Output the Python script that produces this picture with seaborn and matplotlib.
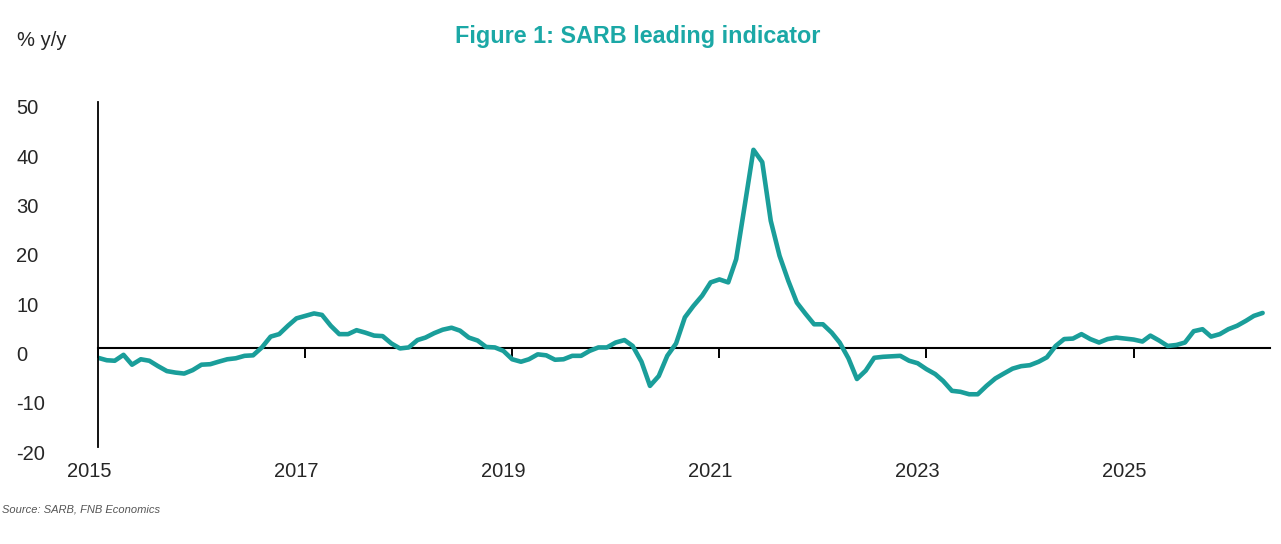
import numpy as np
import pandas as pd
import matplotlib
matplotlib.use('Agg')
import matplotlib.pyplot as plt
import matplotlib.dates as mdates
import matplotlib.transforms as mtransforms
import seaborn as sns

# SARB leading indicator, % y/y, monthly from Jan 2015
start_month = '2015-01-01'
leading_yy = [
    -1.9, -2.4, -2.5, -1.3, -3.3, -2.2, -2.5, -3.6, -4.6, -4.9, -5.1, -4.4,   # 2015
    -3.3, -3.2, -2.7, -2.2, -2.0, -1.5, -1.4, 0.2, 2.4, 2.9, 4.6, 6.1,        # 2016
    6.6, 7.1, 6.8, 4.6, 2.9, 2.9, 3.7, 3.2, 2.6, 2.5, 1.0, 0.0,               # 2017
    0.2, 1.7, 2.2, 3.1, 3.8, 4.2, 3.6, 2.2, 1.6, 0.3, 0.2, -0.5,              # 2018
    -2.2, -2.7, -2.2, -1.2, -1.4, -2.3, -2.2, -1.5, -1.5, -0.5, 0.2, 0.2,     # 2019
    1.2, 1.7, 0.5, -2.7, -7.6, -5.6, -1.5, 1.0, 6.3, 8.6, 10.7, 13.4,         # 2020
    14.0, 13.4, 18.1, 29.3, 40.3, 37.8, 25.9, 18.8, 13.7, 9.3, 7.0, 4.9,      # 2021
    4.9, 3.2, 1.2, -2.0, -6.2, -4.5, -1.9, -1.7, -1.6, -1.5, -2.5, -3.0,      # 2022
    -4.2, -5.2, -6.6, -8.6, -8.8, -9.3, -9.3, -7.6, -6.1, -5.1, -4.1, -3.6,   # 2023
    -3.4, -2.7, -1.8, 0.5, 1.9, 2.0, 2.9, 1.9, 1.2, 1.9, 2.2, 2.0,            # 2024
    1.8, 1.4, 2.6, 1.6, 0.5, 0.7, 1.2, 3.5, 3.9, 2.4, 2.9, 3.9,               # 2025
    4.6, 5.6, 6.6, 7.2,                                                       # 2026
]
year_ticks = ['2015', '2017', '2019', '2021', '2023', '2025']
y_ticks = [-20, -10, 0, 10, 20, 30, 40, 50]

dates = pd.date_range(start_month, periods=len(leading_yy), freq='MS')
df = pd.DataFrame({'date': dates, 'value': leading_yy})

sns.set_style('white')
plt.rcParams['font.family'] = ['Liberation Sans', 'DejaVu Sans']
plt.rcParams['axes.unicode_minus'] = False

line_col = '#1a9e9a'
title_col = '#1ba8a6'

fig = plt.figure(figsize=(12.81, 5.44), dpi=100)
ax = fig.add_axes([98 / 1281, 1 - 447 / 544, (1270 - 98) / 1281, (447 - 102) / 544])

sns.lineplot(data=df, x='date', y='value', ax=ax, color=line_col,
             linewidth=3.3, solid_capstyle='round', solid_joinstyle='round')

ax.set_ylim(-20, 50)
ax.set_xlim(pd.Timestamp('2015-01-01'), pd.Timestamp('2026-04-27'))
ax.set_xlabel('')
ax.set_ylabel('')

# spines: left axis and a zero line carrying the year ticks
for s in ['top', 'right']:
    ax.spines[s].set_visible(False)
ax.spines['left'].set_linewidth(1.3)
ax.spines['left'].set_color('black')
ax.spines['bottom'].set_position(('data', 0))
ax.spines['bottom'].set_linewidth(1.5)
ax.spines['bottom'].set_color('black')
ax.spines['bottom'].set_zorder(1)

ax.set_xticks([pd.Timestamp(y + '-01-01') for y in year_ticks])
ax.xaxis.set_major_formatter(mdates.DateFormatter('%Y'))
ax.tick_params(axis='x', bottom=True, direction='out', length=7.5, width=1.4,
               color='black', labelsize=14.5, pad=74)
ax.set_yticks(y_ticks)
ax.tick_params(axis='y', left=False, length=0, labelsize=14.5, pad=59)

shift_x = mtransforms.ScaledTranslation(-0.09, 0, fig.dpi_scale_trans)
for lab in ax.get_xticklabels():
    lab.set_transform(lab.get_transform() + shift_x)
shift_y = mtransforms.ScaledTranslation(0, -0.05, fig.dpi_scale_trans)
for lab in ax.get_yticklabels():
    lab.set_horizontalalignment('left')
    lab.set_transform(lab.get_transform() + shift_y)

fig.text(17 / 1281, 1 - 40 / 544, '% y/y', fontsize=14.5, va='center', ha='left')
fig.text(638 / 1281, 1 - 37 / 544, 'Figure 1: SARB leading indicator',
         fontsize=16.8, fontweight='bold', color=title_col, ha='center', va='center')
fig.text(2 / 1281, 1 - 510 / 544, 'Source: SARB, FNB Economics', fontsize=8.0,
         style='italic', color='#555555', ha='left', va='center')

fig.savefig('out.png', dpi=100)
